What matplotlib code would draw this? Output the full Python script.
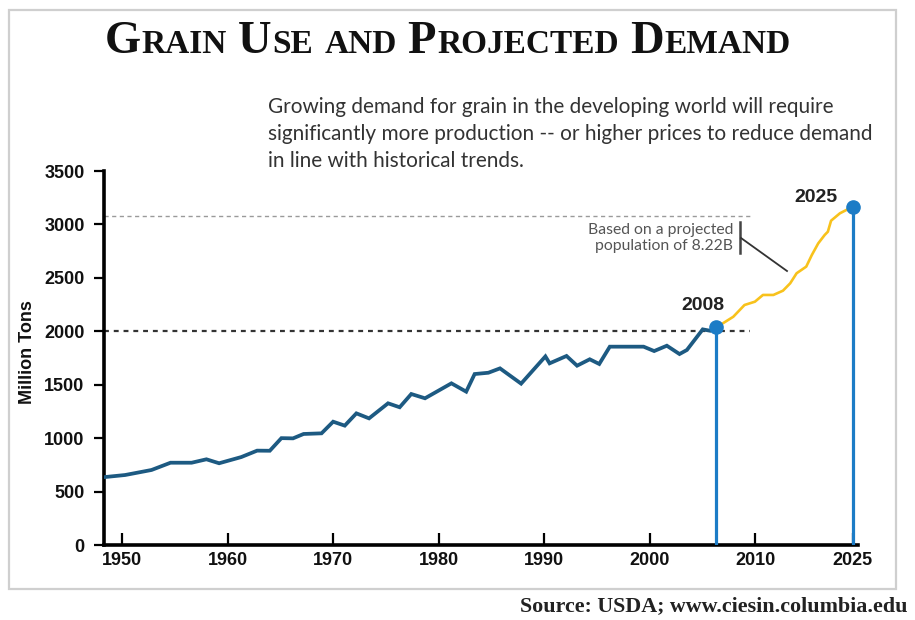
import numpy as np
import matplotlib
matplotlib.use("Agg")
import matplotlib.pyplot as plt
from matplotlib.patches import Rectangle
from matplotlib.lines import Line2D

# historical grain use (million tons)
hist_years = [1950.0, 1952.0, 1954.5, 1956.3, 1958.3, 1959.7, 1960.9, 1963.0, 1964.5,
              1965.7, 1966.8, 1967.9, 1968.9, 1970.6, 1971.7, 1972.8, 1973.9, 1975.1,
              1976.9, 1978.0, 1979.1, 1980.4, 1982.9, 1984.3, 1985.1, 1986.4, 1987.5,
              1989.5, 1991.8, 1992.2, 1993.8, 1994.8, 1996.0, 1996.9, 1997.9, 2001.1,
              2002.1, 2003.3, 2004.5, 2005.2, 2006.7, 2007.4, 2008.0]
hist_vals = [635, 655, 702, 770, 770, 802, 765, 823, 883, 882, 1000, 998, 1039, 1045,
             1154, 1117, 1232, 1185, 1326, 1289, 1413, 1373, 1513, 1435, 1600, 1612,
             1653, 1510, 1765, 1700, 1769, 1678, 1738, 1694, 1856, 1856, 1815, 1865,
             1787, 1825, 2018, 2005, 2037]

# projected demand 2008-2025
proj_years = [2008.0, 2010.1, 2011.5, 2012.8, 2013.8, 2015.1, 2016.3, 2017.2, 2018.0,
              2019.2, 2019.9, 2020.7, 2021.5, 2021.9, 2022.3, 2023.4, 2025.0]
proj_vals = [2037, 2136, 2246, 2277, 2340, 2340, 2380, 2449, 2543, 2605, 2714, 2823,
             2901, 2932, 3035, 3104, 3166]

ref_levels = [3080, 2000]
tick_labels = ["1950", "1960", "1970", "1980", "1990", "2000", "2010", "2025"]
y_ticks = [0, 500, 1000, 1500, 2000, 2500, 3000, 3500]

DARK = "#1d5a82"
YELLOW = "#f8c21c"
BLUE = "#1c7cc6"

W, H = 915, 620
fig = plt.figure(figsize=(W / 100, H / 100), dpi=100)


def px(x, y):
    # pixel (from top-left) -> figure fraction
    return x / W, 1 - y / H


# the axis after 2008 is squeezed
K = 0.759


def fwd(x):
    x = np.asarray(x, float)
    return np.where(x <= 2008, x, 2008 + (x - 2008) * K)


def inv(p):
    p = np.asarray(p, float)
    return np.where(p <= 2008, p, 2008 + (p - 2008) / K)


ax = fig.add_axes([104 / W, 75 / H, (858 - 104) / W, (545 - 171) / H])
ax.set_xscale("function", functions=(fwd, inv))
ax.set_xlim(1950, 2025.66)
ax.set_ylim(0, 3500)

for s in ["top", "right"]:
    ax.spines[s].set_visible(False)
for s in ["left", "bottom"]:
    ax.spines[s].set_linewidth(2.6)
    ax.spines[s].set_capstyle("projecting")

# dashed reference lines
ax.hlines(ref_levels[0], 1950, 2012.2, colors="#9a9a9a", linestyles=(0, (3, 2.5)), lw=1.0)
ax.hlines(ref_levels[1], 1950, 2012.2, colors="#333333", linestyles=(0, (2.2, 2.2)), lw=1.6)

# data lines
ax.plot(hist_years, hist_vals, color=DARK, lw=2.7, solid_joinstyle="miter", zorder=3)
ax.plot(proj_years, proj_vals, color=YELLOW, lw=1.9, zorder=3)

# drop lines + end markers
ends_x = [hist_years[-1], proj_years[-1]]
ends_y = [hist_vals[-1], proj_vals[-1]]
ax.vlines(ends_x, 0, ends_y, colors=BLUE, lw=2.3, zorder=4)
ax.plot(ends_x, ends_y, "o", color=BLUE, ms=9.5, zorder=5, clip_on=False)
ax.annotate("2008", (ends_x[0], ends_y[0]), xytext=(-14, 22), textcoords="offset pixels",
            ha="center", va="center", fontsize=14, fontweight="bold", color="#222222",
            family="Liberation Sans")
ax.annotate("2025", (ends_x[1], ends_y[1]), xytext=(-37, 9), textcoords="offset pixels",
            ha="center", va="center", fontsize=14, fontweight="bold", color="#222222",
            family="Liberation Sans")

# ticks
tick_pos = [int(t) + 1.7 for t in tick_labels[:6]] + [2012.85, 2025.0]
ax.set_xticks(tick_pos)
ax.set_xticklabels(tick_labels)
ax.set_yticks(y_ticks)
ax.set_yticklabels([str(v) for v in y_ticks])
ax.tick_params(axis="x", direction="in", length=8.5, width=1.6, pad=5, labelsize=13)
ax.tick_params(axis="y", direction="out", length=7, width=1.6, pad=7, labelsize=13)
for lab in ax.get_xticklabels() + ax.get_yticklabels():
    lab.set_fontweight("bold")
    lab.set_family("Liberation Sans")
    lab.set_color("#111111")

fig.text(*px(28, 352), "Million Tons", rotation=90, ha="center", va="center",
         fontsize=13, fontweight="bold", family="Liberation Sans", color="#111111")

renderer = fig.canvas.get_renderer()


def fit(t, target):
    w = t.get_window_extent(renderer).width
    t.set_fontsize(t.get_fontsize() * target / w)


# note + bracket
note = fig.text(*px(733, 238), "Based on a projected\npopulation of 8.22B", ha="right",
                va="center", fontsize=10, color="#555555", family="Lato", linespacing=1.1)
fit(note, 146)
fig.add_artist(Line2D([740 / W, 740 / W], [1 - 222 / H, 1 - 253 / H], color="#444444", lw=1.8))
fig.add_artist(Line2D([741 / W, 787 / W], [1 - 238 / H, 1 - 271 / H], color="#333333", lw=1.3))

# description
desc = fig.text(*px(268, 134),
                "Growing demand for grain in the developing world will require\n"
                "significantly more production -- or higher prices to reduce demand\n"
                "in line with historical trends.",
                ha="left", va="center", fontsize=12.5, color="#333333", family="Lato",
                linespacing=1.45)
fit(desc, 607)

# source line
src = fig.text(*px(907, 606), "Source: USDA; www.ciesin.columbia.edu", ha="right", va="center",
               fontsize=14, fontweight="bold", family="Liberation Serif", color="#222222")
fit(src, 387)

# title in small caps
words = [("G", "RAIN"), ("U", "SE"), ("", "AND"), ("P", "ROJECTED"), ("D", "EMAND")]
big, small, gap = 33.5, 24, 10
pieces = []
x = 0.0
for cap, rest in words:
    for s, fs in [(cap, big), (rest, small)]:
        if not s:
            continue
        t = fig.text(0, 0, s, fontsize=fs, family="Liberation Serif", fontweight="bold",
                     color="#111111", va="baseline", ha="left")
        w = t.get_window_extent(renderer).width
        pieces.append((t, x))
        x += w + 1
    x += gap
total = x - gap
x0 = 448 - total / 2
for t, off in pieces:
    t.set_position(px(x0 + off, 53))

# frame
fig.add_artist(Rectangle((8.5 / W, 1 - 589 / H), (896 - 8.5) / W, (589 - 9.5) / H,
                         fill=False, ec="#cfcfcf", lw=1.6, transform=fig.transFigure))

fig.savefig("out.png", dpi=100)
